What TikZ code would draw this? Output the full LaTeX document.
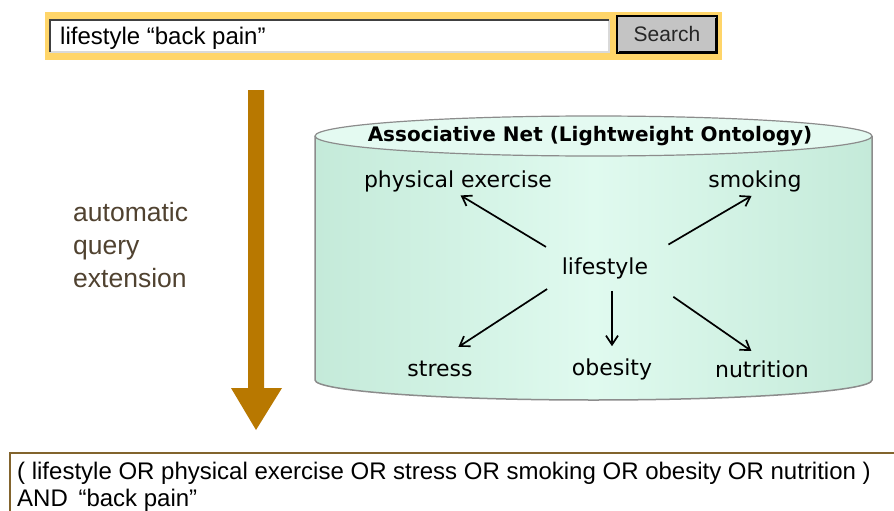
\documentclass[tikz,border=0pt]{standalone}
\usepackage{fontspec}
\setmainfont{Liberation Sans}
\newfontfamily\netfont{DejaVu Sans}
\usetikzlibrary{arrows.meta}

\definecolor{baryellow}{RGB}{255,213,105}
\definecolor{btngray}{RGB}{196,196,196}
\definecolor{bigarrow}{RGB}{184,120,0}
\definecolor{exttext}{RGB}{80,66,48}
\definecolor{netside}{RGB}{196,234,217}
\definecolor{netmid}{RGB}{224,250,239}
\definecolor{nettop}{RGB}{228,250,241}
\definecolor{netedge}{RGB}{140,140,140}
\definecolor{resframe}{RGB}{130,100,45}

\begin{document}
\begin{tikzpicture}[x=1pt, y=-1pt,
        term/.style={font=\netfont\fontsize{22}{26}\selectfont, inner sep=2pt},
        arr/.style={-{Straight Barb[length=9pt,width=12pt]}, line width=1.7pt, black}]
        \useasboundingbox[fill=white] (0,0) rectangle (894,511);

        \fill[baryellow] (45,12) rectangle (722,60);
        \fill[white] (50,20) rectangle (609,52);
        \draw[gray!30, line width=1.5pt] (609,20) -- (609,52) -- (50,52);
        \draw[black!75, line width=2pt] (50,52) -- (50,20) -- (609,20);
        \filldraw[fill=btngray, draw=black, line width=1.5pt] (617,16) rectangle (717,53);
        \draw[black, line width=1.5pt] (619,51.5) -- (715.5,51.5) -- (715.5,18);
        \node[anchor=west, font=\fontsize{24}{28}\selectfont, inner sep=0pt] (query) at (60,38) {lifestyle “back pain”};
        \node[font=\fontsize{21}{25}\selectfont, text=black!85, inner sep=0pt] (search) at (667,34) {Search};

        \fill[bigarrow] (248,90) -- (264,90) -- (264,388) -- (282,388) -- (256,430) -- (231,388) -- (248,388) -- cycle;
        \node[anchor=north west, align=left, text=exttext, font=\fontsize{26.5}{33}\selectfont, inner sep=0pt] (ext) at (73,202) {automatic\\query\\extension};

        \shade[left color=netside, right color=netside, middle color=netmid] (315,136) -- (315,380) arc[start angle=180, end angle=0, x radius=278.5, y radius=20] -- (872,136) -- cycle;
        \draw[netedge, line width=1.5pt] (315,136) -- (315,380) arc[start angle=180, end angle=0, x radius=278.5, y radius=20] -- (872,136);
        \filldraw[fill=nettop, draw=netedge, line width=1.2pt] (593.5,136) ellipse[x radius=278.5, y radius=20];
        \node[font=\netfont\bfseries\fontsize{20}{24}\selectfont] (title) at (590,136) {Associative Net (Lightweight Ontology)};

        \node[term] (life) at (605,268) {lifestyle};
        \node[term] (phys) at (458,181) {physical exercise};
        \node[term] (smok) at (755,181) {smoking};
        \node[term] (stress) at (440,369) {stress};
        \node[term] (obes) at (612,369) {obesity};
        \node[term] (nutr) at (762,369) {nutrition};

        \draw[arr, shorten <=16pt, shorten >=3pt] (life.north west) -- (phys.south);
        \draw[arr, shorten <=21pt, shorten >=4pt] (life.north east) -- (smok.south);
        \draw[arr, shorten <=15pt, shorten >=22pt] (life.south west) -- (stress.north);
        \draw[arr, shorten <=10pt, shorten >=10pt] (life.south -| obes.north) -- (obes.north);
        \draw[arr, shorten <=28pt, shorten >=13pt] (life.south east) -- (nutr.north);

        \draw[resframe, line width=2pt] (10,453) rectangle (910,530);
        \node[anchor=north west, align=left, font=\fontsize{24}{27}\selectfont, inner sep=0pt] (result) at (17,462) {( lifestyle OR physical exercise OR stress OR smoking OR obesity OR nutrition )\\AND \,“back pain”};
\end{tikzpicture}
\end{document}
